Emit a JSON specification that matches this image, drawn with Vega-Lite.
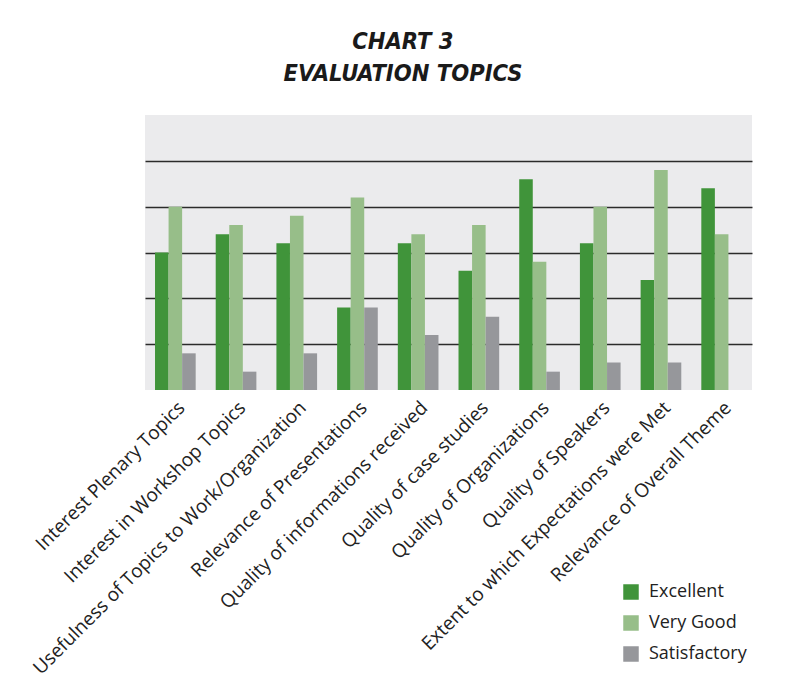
{
  "$schema": "https://vega.github.io/schema/vega-lite/v6.json",
  "width": 607,
  "height": 275,
  "padding": {"left": 29, "top": 29, "right": 8, "bottom": 6},
  "background": "white",
  "title": {
    "text": ["CHART 3", "EVALUATION TOPICS"],
    "font": "DejaVu Sans Condensed, Liberation Sans, sans-serif",
    "fontSize": 23.5,
    "fontStyle": "italic",
    "fontWeight": "bold",
    "color": "#1a1a1a",
    "lineHeight": 32,
    "anchor": "middle",
    "frame": "bounds",
    "dx": 12,
    "offset": 30
  },
  "data": {
    "values": [
      {"topic": "Interest Plenary Topics", "rating": "Excellent", "value": 30},
      {"topic": "Interest Plenary Topics", "rating": "Very Good", "value": 40},
      {"topic": "Interest Plenary Topics", "rating": "Satisfactory", "value": 8},
      {"topic": "Interest in Workshop Topics", "rating": "Excellent", "value": 34},
      {"topic": "Interest in Workshop Topics", "rating": "Very Good", "value": 36},
      {"topic": "Interest in Workshop Topics", "rating": "Satisfactory", "value": 4},
      {"topic": "Usefulness of Topics to Work/Organization", "rating": "Excellent", "value": 32},
      {"topic": "Usefulness of Topics to Work/Organization", "rating": "Very Good", "value": 38},
      {"topic": "Usefulness of Topics to Work/Organization", "rating": "Satisfactory", "value": 8},
      {"topic": "Relevance of Presentations", "rating": "Excellent", "value": 18},
      {"topic": "Relevance of Presentations", "rating": "Very Good", "value": 42},
      {"topic": "Relevance of Presentations", "rating": "Satisfactory", "value": 18},
      {"topic": "Quality of informations received", "rating": "Excellent", "value": 32},
      {"topic": "Quality of informations received", "rating": "Very Good", "value": 34},
      {"topic": "Quality of informations received", "rating": "Satisfactory", "value": 12},
      {"topic": "Quality of case studies", "rating": "Excellent", "value": 26},
      {"topic": "Quality of case studies", "rating": "Very Good", "value": 36},
      {"topic": "Quality of case studies", "rating": "Satisfactory", "value": 16},
      {"topic": "Quality of Organizations", "rating": "Excellent", "value": 46},
      {"topic": "Quality of Organizations", "rating": "Very Good", "value": 28},
      {"topic": "Quality of Organizations", "rating": "Satisfactory", "value": 4},
      {"topic": "Quality of Speakers", "rating": "Excellent", "value": 32},
      {"topic": "Quality of Speakers", "rating": "Very Good", "value": 40},
      {"topic": "Quality of Speakers", "rating": "Satisfactory", "value": 6},
      {"topic": "Extent to which Expectations were Met", "rating": "Excellent", "value": 24},
      {"topic": "Extent to which Expectations were Met", "rating": "Very Good", "value": 48},
      {"topic": "Extent to which Expectations were Met", "rating": "Satisfactory", "value": 6},
      {"topic": "Relevance of Overall Theme", "rating": "Excellent", "value": 44},
      {"topic": "Relevance of Overall Theme", "rating": "Very Good", "value": 34},
      {"topic": "Relevance of Overall Theme", "rating": "Satisfactory", "value": 0}
    ]
  },
  "mark": {"type": "bar"},
  "encoding": {
    "x": {
      "field": "topic",
      "type": "nominal",
      "sort": null,
      "scale": {"paddingInner": 0.33, "paddingOuter": 0.165},
      "axis": {
        "title": null,
        "labelAngle": -45,
        "ticks": false,
        "domain": false,
        "labelFontSize": 19,
        "labelFont": "Open Sans",
        "labelColor": "#222222",
        "labelPadding": 8,
        "labelLimit": 0
      }
    },
    "xOffset": {
      "field": "rating",
      "type": "nominal",
      "sort": ["Excellent", "Very Good", "Satisfactory"],
      "scale": {"paddingInner": 0, "paddingOuter": 0}
    },
    "y": {
      "field": "value",
      "type": "quantitative",
      "scale": {"domain": [0, 60], "nice": false},
      "axis": {
        "title": null,
        "labels": false,
        "ticks": false,
        "domain": false,
        "values": [10, 20, 30, 40, 50],
        "gridColor": "#2b2b2b",
        "gridWidth": 1.5,
        "gridOpacity": 1
      }
    },
    "color": {
      "field": "rating",
      "type": "nominal",
      "sort": ["Excellent", "Very Good", "Satisfactory"],
      "scale": {
        "domain": ["Excellent", "Very Good", "Satisfactory"],
        "range": ["#40943a", "#97be89", "#96979b"]
      },
      "legend": {
        "title": null,
        "orient": "none",
        "legendX": 477,
        "legendY": 468,
        "symbolType": "square",
        "symbolSize": 240,
        "symbolStrokeWidth": 0,
        "labelFontSize": 18,
        "labelFont": "Open Sans",
        "labelColor": "#222222",
        "labelOffset": 9,
        "rowPadding": 13
      }
    }
  },
  "config": {"view": {"fill": "#ebebed", "stroke": null}}
}
